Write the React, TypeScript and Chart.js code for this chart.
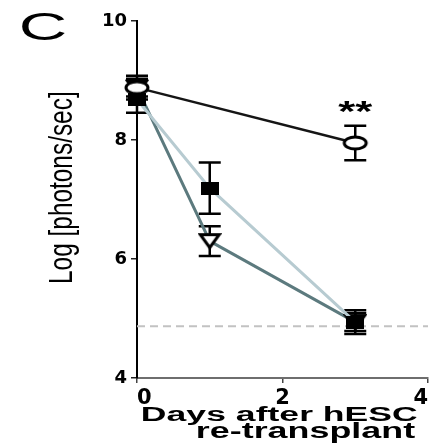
import React, { useEffect, useRef } from "react";
import { Chart, registerables } from "chart.js";

Chart.register(...registerables);

// ---- data ----
const daysA = [0, 3];
const meanA = [8.88, 7.95];
const semA = [0.2, 0.29];

const daysB = [0, 1, 3];
const meanB = [8.68, 7.19, 4.94];
const semB = [0.22, 0.43, 0.2];

const daysC = [0, 1, 3];
const meanC = [8.88, 6.3, 4.94];
const semC = [0.15, 0.25, 0.15];

const detectionLimit = 4.87;
const xRange = [0, 4];
const yRange = [4, 10];
const xTicks = [0, 2, 4];
const yTicks = [4, 6, 8, 10];

const yTitle = "Log [photons/sec]";
const xTitleLines = ["Days after hESC", "re-transplant"];
const panelLabel = "C";
const significance = "**";
const significanceDay = 3;

// ---- marker images ----
function makeMarker(kind: string): HTMLCanvasElement {
  const c = document.createElement("canvas");
  const g = c.getContext("2d")!;
  if (kind === "circle") {
    c.width = 28; c.height = 18;
    g.beginPath();
    g.ellipse(14, 9, 11, 6, 0, 0, Math.PI * 2);
    g.fillStyle = "#fff"; g.fill();
    g.lineWidth = 3; g.strokeStyle = "#000"; g.stroke();
  } else if (kind === "square") {
    c.width = 18; c.height = 13;
    g.fillStyle = "#000"; g.fillRect(0, 0, 18, 13);
  } else {
    c.width = 24; c.height = 18;
    g.beginPath();
    g.moveTo(2.5, 2.5); g.lineTo(21.5, 2.5); g.lineTo(12, 15.5); g.closePath();
    g.fillStyle = "#fff"; g.fill();
    g.lineWidth = 3; g.strokeStyle = "#000"; g.stroke();
  }
  return c;
}

// draw text stretched to fit a box (x, y, w, h); rot = -90 for vertical text reading upward
function drawFit(ctx: CanvasRenderingContext2D, text: string, font: string, x: number, y: number, w: number, h: number, rot = 0) {
  ctx.save();
  ctx.font = font;
  ctx.textAlign = "left";
  ctx.textBaseline = "alphabetic";
  ctx.fillStyle = "#000";
  const m = ctx.measureText(text);
  const bw = m.actualBoundingBoxLeft + m.actualBoundingBoxRight;
  const bh = m.actualBoundingBoxAscent + m.actualBoundingBoxDescent;
  if (rot === 0) {
    ctx.translate(x, y);
    ctx.scale(w / bw, h / bh);
  } else {
    ctx.translate(x, y + h);
    ctx.rotate(-Math.PI / 2);
    ctx.scale(h / bw, w / bh);
  }
  ctx.fillText(text, m.actualBoundingBoxLeft, m.actualBoundingBoxAscent);
  ctx.restore();
}

const errorGroups = [
  { days: daysA, mean: meanA, sem: semA },
  { days: daysB, mean: meanB, sem: semB },
  { days: daysC, mean: meanC, sem: semC },
];

const errorBarPlugin = {
  id: "errorBars",
  beforeDatasetsDraw(chart: any) {
    const { ctx } = chart;
    const x = chart.scales.x;
    const y = chart.scales.y;
    const cap = 11;
    ctx.save();
    ctx.strokeStyle = "#000";
    ctx.lineWidth = 2.5;
    errorGroups.forEach((g) =>
      g.days.forEach((d, i) => {
        const px = x.getPixelForValue(d);
        const top = y.getPixelForValue(g.mean[i] + g.sem[i]);
        const bot = y.getPixelForValue(g.mean[i] - g.sem[i]);
        ctx.beginPath();
        ctx.moveTo(px, top); ctx.lineTo(px, bot);
        ctx.moveTo(px - cap, top); ctx.lineTo(px + cap, top);
        ctx.moveTo(px - cap, bot); ctx.lineTo(px + cap, bot);
        ctx.stroke();
      })
    );
    ctx.restore();
  },
};

const textPlugin = {
  id: "texts",
  afterDraw(chart: any) {
    const { ctx } = chart;
    const x = chart.scales.x;
    const y = chart.scales.y;
    drawFit(ctx, panelLabel, "normal 100px 'Liberation Sans'", 22, 12, 43, 28);
    drawFit(ctx, yTitle, "normal 100px 'Liberation Sans'", 48, 93, 31, 189, -90);
    drawFit(ctx, xTitleLines[0], "bold 100px 'Liberation Sans'", 143, 406, 274, 19);
    drawFit(ctx, xTitleLines[1], "bold 100px 'Liberation Sans'", 198, 422, 217, 21);
    const i = daysA.indexOf(significanceDay);
    const px = x.getPixelForValue(significanceDay);
    const capTop = y.getPixelForValue(meanA[i] + semA[i]);
    drawFit(ctx, significance, "bold 100px 'Liberation Sans'", px - 17, capTop - 25, 34, 11);
  },
};

function zeroPad(s: any) {
  s.paddingLeft = 0; s.paddingRight = 0; s.paddingTop = 0; s.paddingBottom = 0;
}

export default function App() {
  const ref = useRef<HTMLCanvasElement | null>(null);
  useEffect(() => {
    if (!ref.current) return;
    const circle = makeMarker("circle");
    const square = makeMarker("square");
    const tri = makeMarker("triangle");
    const chart = new Chart(ref.current, {
      type: "line",
      data: {
        datasets: [
          {
            label: "A",
            data: daysA.map((d, i) => ({ x: d, y: meanA[i] })),
            borderColor: "#151515",
            borderWidth: 2.5,
            pointStyle: circle as any,
            pointRadius: 8,
            clip: false as any,
            order: 1,
          },
          {
            label: "B",
            data: daysB.map((d, i) => ({ x: d, y: meanB[i] })),
            borderColor: "#b7cbd1",
            borderWidth: 3,
            pointStyle: square as any,
            pointRadius: 8,
            clip: false as any,
            order: 2,
          },
          {
            label: "C",
            data: daysC.map((d, i) => ({ x: d, y: meanC[i] })),
            borderColor: "#5c7a7e",
            borderWidth: 3,
            pointStyle: tri as any,
            pointRadius: 8,
            clip: false as any,
            order: 3,
          },
          {
            label: "limit",
            data: xRange.map((d) => ({ x: d, y: detectionLimit })),
            borderColor: "#c2c2c2",
            borderWidth: 2,
            borderDash: [8, 5],
            pointRadius: 0,
            clip: false as any,
            order: 10,
          },
        ],
      },
      options: {
        animation: false,
        responsive: false,
        devicePixelRatio: 1,
        layout: { autoPadding: false, padding: { top: 21, right: 1, left: 0, bottom: 0 } },
        plugins: { legend: { display: false }, tooltip: { enabled: false } },
        scales: {
          x: {
            type: "linear",
            min: xRange[0],
            max: xRange[1],
            afterBuildTicks: (s: any) => { s.ticks = xTicks.map((v) => ({ value: v })); },
            afterFit: (s: any) => { s.height = 65; zeroPad(s); },
            grid: { display: true, drawOnChartArea: false, drawTicks: true, tickLength: 5, color: "#444", lineWidth: 1.5 },
            border: { display: true, color: "#6e6e6e", width: 2 },
            ticks: {
              color: "#000",
              padding: 3,
              maxRotation: 0,
              align: "inner",
              font: { family: "'DejaVu Sans'", weight: "bold", size: 21 },
            },
          },
          y: {
            type: "linear",
            min: yRange[0],
            max: yRange[1],
            afterBuildTicks: (s: any) => { s.ticks = yTicks.map((v) => ({ value: v })); },
            afterFit: (s: any) => { s.width = 137; zeroPad(s); },
            grid: { display: true, drawOnChartArea: false, drawTicks: true, tickLength: 6, color: "#222", lineWidth: 1.5 },
            border: { display: true, color: "#000", width: 2 },
            ticks: {
              color: "#000",
              padding: 4,
              font: { family: "'DejaVu Sans'", weight: "bold", size: 18 },
            },
          },
        },
      },
      plugins: [errorBarPlugin, textPlugin],
    });
    return () => chart.destroy();
  }, []);
  return (
    <div style={{ position: "fixed", left: 0, top: 0, width: 429, height: 443, background: "#fff" }}>
      <canvas ref={ref} width={429} height={443} style={{ display: "block", width: 429, height: 443 }} />
    </div>
  );
}
